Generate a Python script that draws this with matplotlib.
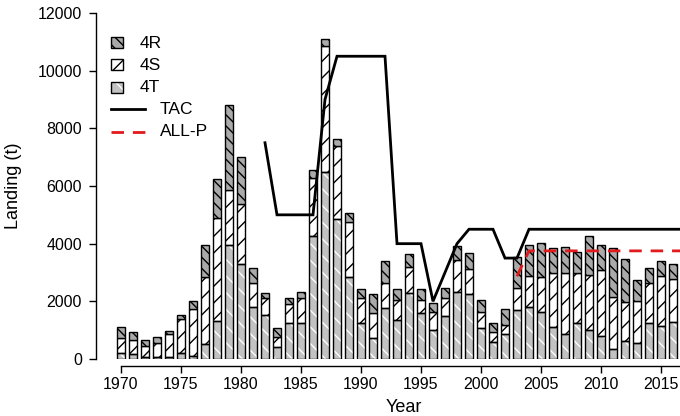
import matplotlib
matplotlib.use("Agg")
import matplotlib.pyplot as plt
from matplotlib.patches import Rectangle
from matplotlib.lines import Line2D

plt.rcParams["font.family"] = ["Liberation Sans", "DejaVu Sans"]
plt.rcParams["hatch.linewidth"] = 1.0

# Landings by division (t), 1970-2016
years = list(range(1970, 2017))
land_4T = [200, 180, 60, 60, 60, 220, 120, 510, 1320, 3950,
           3290, 1790, 1530, 400, 1260, 1240, 4270, 6480, 4850, 2860,
           1260, 740, 1760, 1350, 2300, 1610, 1010, 1490, 2340, 2240,
           1060, 600, 850, 1690, 1790, 1620, 1100, 860, 1240, 1010,
           800, 340, 640, 540, 1240, 1140, 1290]
land_4S = [520, 480, 400, 490, 810, 1170, 1620, 2350, 3580, 1910,
           2070, 860, 570, 370, 660, 860, 2000, 4380, 2520, 1900,
           870, 870, 860, 700, 900, 440, 630, 610, 1090, 870,
           570, 350, 330, 780, 1090, 1210, 1870, 2110, 1750, 1900,
           2290, 1820, 1350, 1470, 1410, 1740, 1470]
land_4R = [400, 280, 200, 200, 110, 150, 270, 1090, 1340, 2950,
           1660, 520, 180, 320, 210, 240, 280, 230, 250, 290,
           300, 630, 790, 370, 440, 370, 290, 350, 490, 550,
           430, 310, 570, 1080, 1070, 1200, 870, 930, 730, 1360,
           860, 1680, 1470, 730, 500, 520, 540]

# Total allowable catch and the ALL-P reference
tac_years = list(range(1982, 2018))
tac = [7500, 5000, 5000, 5000, 5000, 9000, 10500, 10500, 10500, 10500,
       10500, 4000, 4000, 4000, 2000, 3000, 4000, 4500, 4500, 4500,
       3500, 3500, 4500, 4500, 4500, 4500, 4500, 4500, 4500, 4500,
       4500, 4500, 4500, 4500, 4500, 4500]
allp_years = list(range(2003, 2018))
allp = [2870] + [3750] * 14

x_ticks = list(range(1970, 2020, 5))
y_ticks = list(range(0, 12001, 2000))

W, H = 680, 416
fig = plt.figure(figsize=(W / 100, H / 100), dpi=100)
L, R, B, T = 96, 680, 359, 13
ax = fig.add_axes([L / W, (H - B) / H, (R - L) / W, (B - T) / H])

grey_t = "#c2c2c2"
grey_r = "#aaaaaa"
bw = 0.6

bottom2 = [a + b for a, b in zip(land_4T, land_4S)]
# 4T: grey with white hatching, outlined in black
ax.bar(years, land_4T, width=bw, color=grey_t, edgecolor="white",
       hatch="\\\\", linewidth=0, zorder=2)
ax.bar(years, land_4T, width=bw, fill=False, edgecolor="black",
       linewidth=1.0, zorder=3)
# 4S: white with black hatching
ax.bar(years, land_4S, bottom=land_4T, width=bw, color="white",
       edgecolor="black", hatch="//", linewidth=1.0, zorder=2)
# 4R: grey with dense black hatching
ax.bar(years, land_4R, bottom=bottom2, width=bw, color=grey_r,
       edgecolor="black", hatch="\\\\\\", linewidth=1.0, zorder=2)

ax.plot(tac_years, tac, color="black", lw=2.0, zorder=4, clip_on=False,
        solid_joinstyle="miter")
ax.plot(allp_years, allp, color="#e31a1c", lw=2.0, zorder=5,
        dashes=(4.5, 3.2), clip_on=False)

ax.set_xlim(1970 - 25 / 12, 1970 + (R - 121) / 12)
ax.set_ylim(0, 12000)

for s in ("top", "right"):
    ax.spines[s].set_visible(False)
ax.spines["bottom"].set_position(("outward", 5))
ax.spines["bottom"].set_bounds(1970, 1970 + (R - 121) / 12)
ax.spines["left"].set_bounds(0, 12000)
for s in ("bottom", "left"):
    ax.spines[s].set_linewidth(1.0)

ax.set_xticks(x_ticks)
ax.set_yticks(y_ticks)
ax.tick_params(axis="both", direction="out", length=5, width=1.0,
               labelsize=11.5, colors="black")
ax.tick_params(axis="y", pad=5)
ax.tick_params(axis="x", pad=3)
ax.set_xlabel("Year", fontsize=13)
ax.set_ylabel("Landing (t)", fontsize=13)
ax.xaxis.set_label_coords((404 - L) / (R - L), -0.115)
ax.yaxis.set_label_coords(-(L - 22) / (R - L), 0.5)

# Legend drawn on a figure-sized overlay in pixel units
ov = fig.add_axes([0, 0, 1, 1], zorder=10)
ov.set_xlim(0, W)
ov.set_ylim(H, 0)
ov.axis("off")
ov.patch.set_alpha(0)
entries = [("4R", grey_r, "black", "\\\\\\", 43),
           ("4S", "white", "black", "//", 65),
           ("4T", grey_t, "white", "\\\\", 88)]
for lab, fc, hc, hp, yc in entries:
    ov.add_patch(Rectangle((111, yc - 6), 12, 11, facecolor=fc,
                           edgecolor=hc, hatch=hp, linewidth=0))
    ov.add_patch(Rectangle((111, yc - 6), 12, 11, fill=False,
                           edgecolor="black", linewidth=1.0))
    ov.text(140, yc, lab, fontsize=12.5, va="center", ha="left")
ov.add_line(Line2D([111, 145], [109, 109], color="black", lw=2.0))
ov.text(160, 109, "TAC", fontsize=12.5, va="center", ha="left")
ov.add_line(Line2D([111, 145], [131.5, 131.5], color="#e31a1c", lw=2.0,
                   dashes=(4.5, 3.2)))
ov.text(160, 131.5, "ALL-P", fontsize=12.5, va="center", ha="left")

fig.savefig("out.png", dpi=100)
